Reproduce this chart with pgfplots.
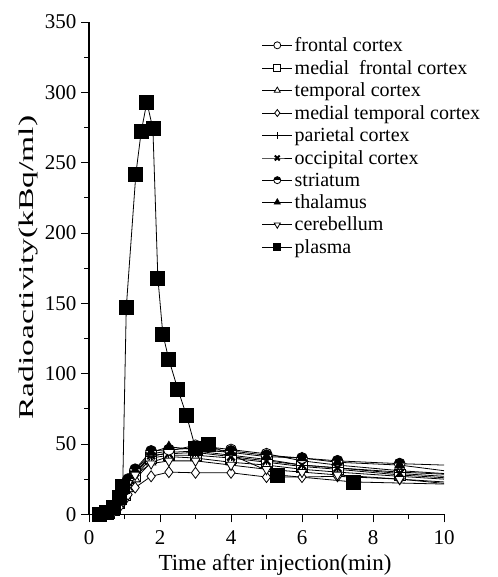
\documentclass[border=0pt]{standalone}
\usepackage{fontspec}
\setmainfont{Liberation Serif}
\usepackage{graphicx}
\usepackage{pgfplots}
\pgfplotsset{compat=1.18}
\usetikzlibrary{plotmarks}
\begin{document}
\begin{tikzpicture}
\path[use as bounding box] (-89pt,-62.7pt) rectangle (408pt,514.3pt);
\begin{axis}[
  at={(0pt,0pt)}, anchor=south west,
  scale only axis, width=355pt, height=492.3pt,
  xmin=0, xmax=10, ymin=0, ymax=350,
  axis lines*=left, axis line style={-, line width=1.1pt},
  xtick={0,2,4,6,8,10}, minor xtick={1,3,5,7,9},
  ytick={0,50,100,150,200,250,300,350}, minor ytick={25,75,125,175,225,275,325},
  tick align=outside, tick style={black, line width=0.9pt},
  major tick length=8pt, minor tick length=5pt,
  clip=false,
  tick label style={font=\fontsize{21}{21}\selectfont},
  /pgf/number format/assume math mode=true,
  xticklabel style={yshift=-5pt},
  yticklabel style={xshift=-1pt},
  xlabel={Time after injection(min)},
  ylabel={\scalebox{1.6}[1]{Radioactivity(kBq/ml)}},
  xlabel style={font=\fontsize{23}{23}\selectfont, at={([yshift=-51pt]rel axis cs:0.524,0)}, anchor=center},
  ylabel style={font=\fontsize{21}{21}\selectfont, at={([xshift=-61pt]rel axis cs:0,0.501)}, anchor=center, rotate=0},
  legend cell align=left,
  legend style={draw=none, fill=none, at={(rel axis cs:0.478,0.977)}, anchor=north west,
    font=\fontsize{20}{22}\selectfont, row sep=3.1pt, /tikz/every even column/.append style={column sep=3pt}},
  legend image code/.code={\draw[mark size=3.5pt, mark indices={2}] plot coordinates {(0pt,0pt)(15pt,0pt)(30pt,0pt)};},
  every axis plot/.append style={black, line width=0.8pt, mark size=5.5pt, mark options={solid, line width=0.8pt}},
]
% frontal cortex
\addplot[mark=*, mark options={fill=white}, mark indices={1,...,16}] coordinates {
(0.25,0)(0.4,1)(0.55,1)(0.7,4)(0.85,9)(1.0,16)(1.1,22)(1.3,29)(1.75,43)(2.25,45)(3,49)(4,46)(5,43)(6,38)(7,35)(8.75,31)(10,29)};
\addlegendentry{frontal cortex}
% medial frontal cortex
\addplot[mark=square*, mark options={fill=white}, mark indices={1,...,16}] coordinates {
(0.25,0)(0.4,0)(0.55,1)(0.7,3)(0.85,8)(1.0,14)(1.1,20)(1.3,27)(1.75,40)(2.25,42)(3,42)(4,40)(5,37)(6,34)(7,32)(8.75,28)(10,26)};
\addlegendentry{medial\ \ frontal cortex}
% temporal cortex
\addplot[mark=triangle*, mark options={fill=white}, mark indices={1,...,16}] coordinates {
(0.25,0)(0.4,1)(0.55,1)(0.7,3)(0.85,7)(1.0,13)(1.1,18)(1.3,25)(1.75,37)(2.25,41)(3,40)(4,37)(5,35)(6,32)(7,30)(8.75,27)(10,25)};
\addlegendentry{temporal cortex}
% medial temporal cortex
\addplot[mark=diamond*, mark options={fill=white}, mark indices={1,...,16}] coordinates {
(0.25,0)(0.4,0)(0.55,1)(0.7,2)(0.85,5)(1.0,10)(1.1,14)(1.3,19)(1.75,27)(2.25,30)(3,29.5)(4,29.5)(5,26.5)(6,26.5)(7,27)(8.75,25)(10,23)};
\addlegendentry{medial temporal cortex}
% parietal cortex
\addplot[mark=+, mark indices={1,...,16}] coordinates {
(0.25,0)(0.4,1)(0.55,2)(0.7,4)(0.85,9)(1.0,16)(1.1,22)(1.3,29)(1.75,41)(2.25,44)(3,45)(4,42)(5,39)(6,35)(7,33)(8.75,30)(10,28.5)};
\addlegendentry{parietal cortex}
% occipital cortex
\addplot[mark=x, mark options={line width=2pt}, mark indices={1,...,16}] coordinates {
(0.25,0)(0.4,1)(0.55,2)(0.7,5)(0.85,10)(1.0,17)(1.1,23)(1.3,30)(1.75,42)(2.25,43)(3,44)(4,41)(5,38)(6,35)(7,33)(8.75,29)(10,27)};
\addlegendentry{occipital cortex}
% striatum
\addplot[mark=halfcircle*, mark options={fill=black}, mark indices={1,...,16}] coordinates {
(0.25,0)(0.4,1)(0.55,2)(0.7,5)(0.85,11)(1.0,18)(1.1,25)(1.3,32)(1.75,45)(2.25,46)(3,47)(4,45)(5,42)(6,40)(7,38)(8.75,36)(10,35)};
\addlegendentry{striatum}
% thalamus
\addplot[mark=triangle*, mark options={fill=black}, mark indices={1,...,16}] coordinates {
(0.25,0)(0.4,1)(0.55,1)(0.7,4)(0.85,10)(1.0,17)(1.1,24)(1.3,31)(1.75,44)(2.25,48)(3,46)(4,44)(5,41)(6,40)(7,37)(8.75,35)(10,31)};
\addlegendentry{thalamus}
% cerebellum
\addplot[mark=triangle*, mark options={fill=white, rotate=180}, mark indices={1,...,16}] coordinates {
(0.25,0)(0.4,0)(0.55,1)(0.7,3)(0.85,8)(1.0,15)(1.1,22)(1.3,28)(1.75,36)(2.25,38)(3,38)(4,35)(5,32)(6,30)(7,28)(8.75,25)(10,22)};
\addlegendentry{cerebellum}
% plasma
\addplot[mark=square*, mark options={fill=black}, mark size=7pt, mark indices={1,...,19}] coordinates {
(0.3,0)(0.5,1)(0.7,5)(0.85,12)(0.95,20)(1.05,147)(1.32,242)(1.47,272)(1.63,293)(1.8,274)(1.94,168)(2.08,128)(2.25,110)(2.5,89)(2.75,70)(3.0,47)(3.35,49.5)(5.3,28)(7.45,23)(10,21.5)};
\addlegendentry{plasma}
\end{axis}
\end{tikzpicture}
\end{document}
